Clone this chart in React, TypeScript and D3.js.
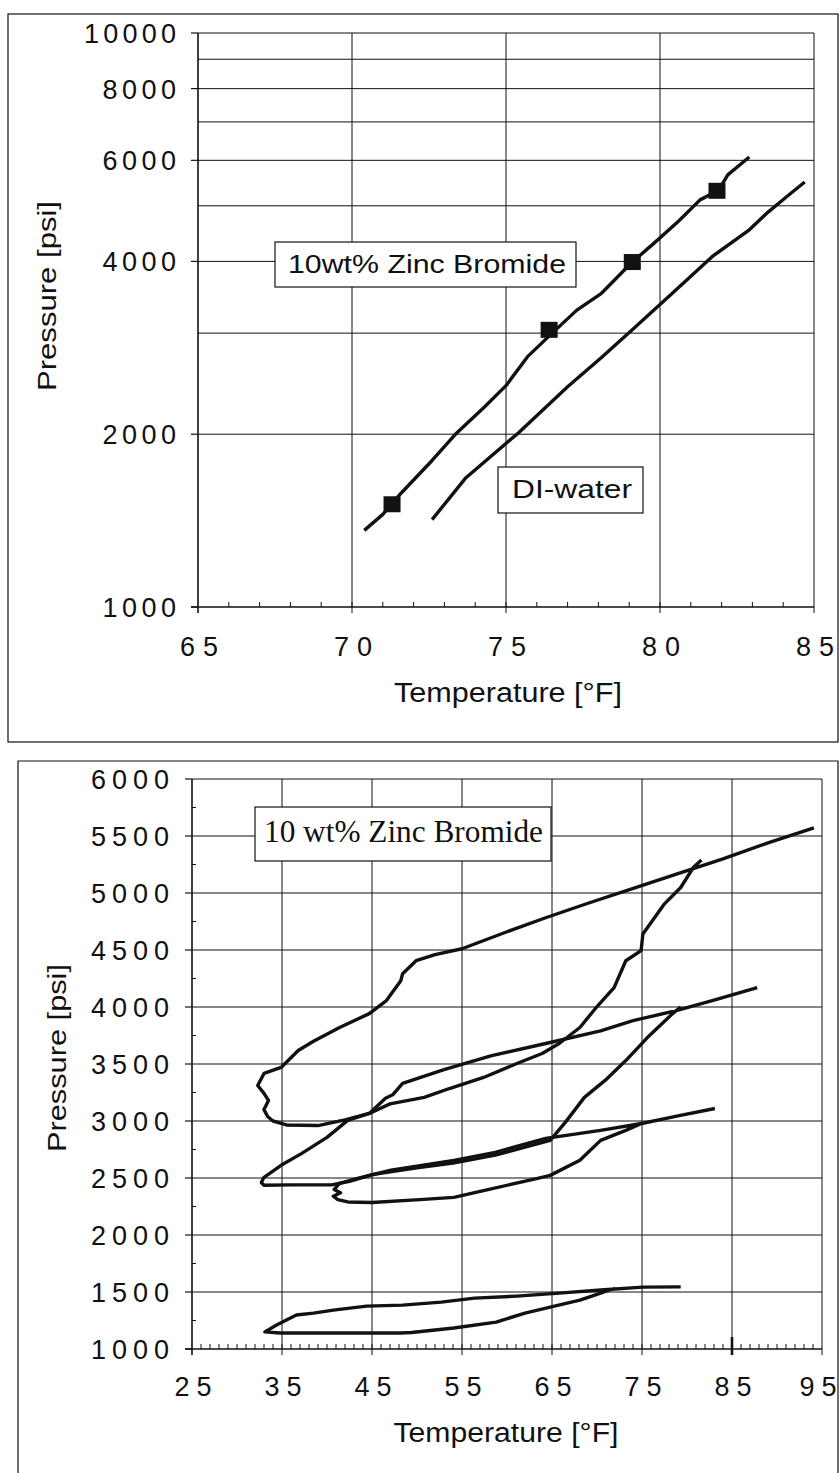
import React, { useEffect, useRef } from 'react';
import * as d3 from 'd3';

// ---- top chart: equilibrium curves (log pressure) ----
const topTempTicks = [65, 70, 75, 80, 85];
const topPressureLabels = [1000, 2000, 4000, 6000, 8000, 10000];
const topPressureGrid = [2000, 3000, 4000, 5000, 6000, 7000, 8000, 9000, 10000];

const znbrTemp = [70.4, 71.0, 71.6, 72.6, 73.4, 74.3, 75.0, 75.7, 76.5, 77.3, 78.1, 79.1, 79.8, 80.6, 81.3, 81.9, 82.2, 82.9];
const znbrPressure = [1360, 1450, 1580, 1800, 2010, 2230, 2430, 2730, 3000, 3290, 3520, 3990, 4300, 4700, 5120, 5320, 5660, 6080];

const waterTemp = [72.6, 73.7, 75.4, 77.0, 78.1, 79.1, 80.4, 81.7, 82.9, 83.5, 84.1, 84.7];
const waterPressure = [1420, 1680, 2010, 2420, 2720, 3040, 3520, 4080, 4540, 4870, 5180, 5500];

const markerTemp = [71.3, 76.4, 79.1, 81.85];
const markerPressure = [1510, 3040, 3990, 5310];

// ---- bottom chart: cooling / heating loops ----
const bottomTempTicks = [25, 35, 45, 55, 65, 75, 85, 95];
const bottomPressureTicks = [1000, 1500, 2000, 2500, 3000, 3500, 4000, 4500, 5000, 5500, 6000];

const loop1Temp = [94.1, 89, 84, 79, 74.2, 69, 64.3, 60, 55, 52, 49.9, 48.4, 48.2, 46.6, 44.7, 41.4, 38.5, 36.8, 34.9, 33, 32.3, 33, 33.5, 33, 33.4, 34, 35.5, 39, 42, 44.7, 47, 50.8, 53.6, 57.4, 61.1, 63.9, 65.8, 68.1, 69.8, 71.9, 73.2, 74.9, 75.1, 77.5, 79.3, 80.7, 81.6];
const loop1Pressure = [5571, 5440, 5300, 5170, 5045, 4910, 4783, 4660, 4511, 4460, 4406, 4292, 4231, 4056, 3942, 3820, 3700, 3618, 3470, 3417, 3312, 3242, 3180, 3100, 3040, 3000, 2965, 2960, 3010, 3066, 3150, 3207, 3285, 3382, 3504, 3592, 3680, 3820, 3985, 4170, 4406, 4494, 4641, 4905, 5048, 5223, 5290];

const loop2Temp = [87.8, 83, 78.9, 74, 70.4, 64.3, 58.3, 53, 48.4, 47.3, 46.5, 44.7, 42.3, 40, 37.2, 34.9, 33, 32.7, 33, 36, 40.5, 42.5, 45, 50, 54, 58.7, 62, 64.8, 66.5, 68.6, 70.9, 73.2, 75.6, 78.4, 79.3];
const loop2Pressure = [4170, 4060, 3970, 3880, 3790, 3680, 3574, 3450, 3330, 3230, 3200, 3066, 3005, 2856, 2716, 2611, 2506, 2460, 2436, 2440, 2440, 2470, 2530, 2590, 2630, 2700, 2770, 2830, 2990, 3207, 3356, 3530, 3732, 3942, 4000];

const loop3Temp = [83.1, 79, 75.1, 70.4, 64.3, 58.7, 54.1, 47.1, 43.4, 41.4, 40.8, 41.5, 40.7, 41.2, 42.3, 45, 50.3, 54.1, 58, 63.4, 64.8, 68.1, 70.4, 73.2, 75];
const loop3Pressure = [3110, 3045, 2980, 2918, 2848, 2725, 2655, 2568, 2497, 2453, 2400, 2370, 2340, 2310, 2290, 2285, 2310, 2330, 2400, 2497, 2523, 2655, 2830, 2918, 2980];

const loop4Temp = [79.3, 75.1, 70.4, 65.8, 61.1, 56.4, 52.7, 48.4, 44.4, 40.7, 38.5, 36.6, 35.5, 34.4, 33.1, 34.8, 48.1, 49.4, 54.1, 58.8, 62, 64.8, 68.1, 70.4, 71.3, 72];
const loop4Pressure = [1545, 1543, 1517, 1490, 1464, 1446, 1411, 1385, 1376, 1341, 1315, 1298, 1254, 1210, 1150, 1140, 1140, 1145, 1184, 1236, 1315, 1368, 1429, 1490, 1517, 1530];

const SANS = '"Liberation Sans", Arial, Helvetica, sans-serif';
const SERIF = '"Liberation Serif", "Times New Roman", serif';

const zip = (t: number[], p: number[]) => t.map((v, i) => [v, p[i]] as [number, number]);

const App = () => {
  const svgRef = useRef<SVGSVGElement>(null);

  useEffect(() => {
    const svg = d3.select(svgRef.current);
    svg.selectAll('*').remove();
    svg.append('rect').attr('width', 840).attr('height', 1473).attr('fill', '#fff');

    const ink = '#111';

    // spaced-out digits, like the scanned Helvetica labels
    const label = (g: any, x: number, y: number, txt: string, anchor: string, size: number, pitch: number) => {
      g.append('text')
        .attr('x', x)
        .attr('y', y)
        .attr('text-anchor', anchor)
        .attr('font-family', SANS)
        .attr('font-size', size)
        .attr('textLength', txt.length * pitch)
        .attr('lengthAdjust', 'spacing')
        .attr('fill', ink)
        .text(txt);
    };

    const boxText = (g: any, x0: number, y0: number, x1: number, y1: number, tx: number, ty: number, txt: string, font: string, size: number, len: number) => {
      g.append('rect')
        .attr('x', x0).attr('y', y0)
        .attr('width', x1 - x0).attr('height', y1 - y0)
        .attr('fill', '#fff').attr('stroke', ink).attr('stroke-width', 1.2);
      g.append('text')
        .attr('x', tx).attr('y', ty)
        .attr('font-family', font).attr('font-size', size)
        .attr('textLength', len).attr('lengthAdjust', 'spacingAndGlyphs')
        .attr('fill', ink)
        .text(txt);
    };

    // ================= TOP CHART =================
    const top = svg.append('g');
    top.append('rect').attr('x', 8).attr('y', 14).attr('width', 830).attr('height', 728)
      .attr('fill', 'none').attr('stroke', ink).attr('stroke-width', 1.2);

    const x1 = d3.scaleLinear().domain([65, 85]).range([198, 814]);
    const y1 = d3.scaleLog().domain([1000, 10000]).range([607, 33]);

    // grid
    topPressureGrid.forEach(p => {
      top.append('line').attr('x1', x1(65)).attr('x2', x1(85)).attr('y1', y1(p)).attr('y2', y1(p))
        .attr('stroke', ink).attr('stroke-width', 1);
    });
    topTempTicks.slice(1).forEach(t => {
      top.append('line').attr('x1', x1(t)).attr('x2', x1(t)).attr('y1', y1(10000)).attr('y2', y1(1000) + 6)
        .attr('stroke', ink).attr('stroke-width', 1);
    });
    // minor ticks
    d3.range(66, 85).forEach(t => {
      top.append('line').attr('x1', x1(t)).attr('x2', x1(t)).attr('y1', y1(1000)).attr('y2', y1(1000) - 5)
        .attr('stroke', ink).attr('stroke-width', 1);
    });
    // axes
    top.append('line').attr('x1', x1(65)).attr('x2', x1(65)).attr('y1', y1(10000)).attr('y2', y1(1000) + 6)
      .attr('stroke', ink).attr('stroke-width', 1.6);
    top.append('line').attr('x1', x1(65) - 7).attr('x2', x1(85)).attr('y1', y1(1000)).attr('y2', y1(1000))
      .attr('stroke', ink).attr('stroke-width', 1.6);
    topPressureLabels.forEach(p => {
      top.append('line').attr('x1', x1(65) - 7).attr('x2', x1(65)).attr('y1', y1(p)).attr('y2', y1(p))
        .attr('stroke', ink).attr('stroke-width', 1.2);
      label(top, 176, y1(p) + 10, String(p), 'end', 27, 18.4);
    });
    topTempTicks.forEach(t => label(top, x1(t) + 1, 656, String(t), 'middle', 27, 19));

    top.append('text').attr('x', 508).attr('y', 702).attr('text-anchor', 'middle')
      .attr('font-family', SANS).attr('font-size', 27).attr('textLength', 228)
      .attr('lengthAdjust', 'spacingAndGlyphs').attr('fill', ink).text('Temperature [°F]');
    top.append('text').attr('transform', 'translate(56,296) rotate(-90)').attr('text-anchor', 'middle')
      .attr('font-family', SANS).attr('font-size', 26).attr('textLength', 190)
      .attr('lengthAdjust', 'spacingAndGlyphs').attr('fill', ink).text('Pressure  [psi]');

    const lineTop = d3.line<[number, number]>().x(d => x1(d[0])).y(d => y1(d[1]));
    top.append('path').datum(zip(znbrTemp, znbrPressure)).attr('d', lineTop)
      .attr('fill', 'none').attr('stroke', ink).attr('stroke-width', 3.4).attr('stroke-linejoin', 'round');
    top.append('path').datum(zip(waterTemp, waterPressure)).attr('d', lineTop)
      .attr('fill', 'none').attr('stroke', ink).attr('stroke-width', 3.4).attr('stroke-linejoin', 'round');
    zip(markerTemp, markerPressure).forEach(d => {
      top.append('rect').attr('x', x1(d[0]) - 8.5).attr('y', y1(d[1]) - 8).attr('width', 17).attr('height', 16)
        .attr('fill', ink);
    });

    boxText(top, 275, 242, 576, 287, 288, 273, '10wt%  Zinc  Bromide', SANS, 25, 278);
    boxText(top, 498, 467, 643, 513, 512, 498, 'DI-water', SANS, 25, 120);

    // ================= BOTTOM CHART =================
    const bot = svg.append('g');
    bot.append('path').attr('d', 'M18,1480 L18,761 L838,761 L838,1480')
      .attr('fill', 'none').attr('stroke', ink).attr('stroke-width', 1.2);

    const x2 = d3.scaleLinear().domain([25, 95]).range([192, 822]);
    const y2 = d3.scaleLinear().domain([1000, 6000]).range([1349, 779]);

    bottomPressureTicks.slice(1).forEach(p => {
      bot.append('line').attr('x1', x2(25)).attr('x2', x2(95)).attr('y1', y2(p)).attr('y2', y2(p))
        .attr('stroke', ink).attr('stroke-width', 1);
    });
    bottomTempTicks.slice(1).forEach(t => {
      bot.append('line').attr('x1', x2(t)).attr('x2', x2(t)).attr('y1', y2(6000)).attr('y2', y2(1000) + 6)
        .attr('stroke', ink).attr('stroke-width', 1);
    });
    // the heavier tick mark at 85
    bot.append('line').attr('x1', x2(85)).attr('x2', x2(85)).attr('y1', y2(1000) - 12).attr('y2', y2(1000) + 6)
      .attr('stroke', ink).attr('stroke-width', 2.6);
    d3.range(26, 95).forEach(t => {
      bot.append('line').attr('x1', x2(t)).attr('x2', x2(t)).attr('y1', y2(1000)).attr('y2', y2(1000) - 5)
        .attr('stroke', ink).attr('stroke-width', 1);
    });
    d3.range(1250, 6000, 500).forEach(p => {
      bot.append('line').attr('x1', x2(25)).attr('x2', x2(25) + 4).attr('y1', y2(p)).attr('y2', y2(p))
        .attr('stroke', ink).attr('stroke-width', 1);
    });
    bot.append('line').attr('x1', x2(25)).attr('x2', x2(25)).attr('y1', y2(6000)).attr('y2', y2(1000) + 6)
      .attr('stroke', ink).attr('stroke-width', 1.6);
    bot.append('line').attr('x1', x2(25) - 7).attr('x2', x2(95)).attr('y1', y2(1000)).attr('y2', y2(1000))
      .attr('stroke', ink).attr('stroke-width', 1.6);
    bottomPressureTicks.forEach(p => {
      bot.append('line').attr('x1', x2(25) - 7).attr('x2', x2(25)).attr('y1', y2(p)).attr('y2', y2(p))
        .attr('stroke', ink).attr('stroke-width', 1.2);
      label(bot, 169, y2(p) + 10, String(p), 'end', 27, 19.5);
    });
    bottomTempTicks.forEach(t => label(bot, t === 95 ? x2(t) - 4 : x2(t) + 1, 1396, String(t), 'middle', 27, 18.5));

    bot.append('text').attr('x', 506).attr('y', 1442).attr('text-anchor', 'middle')
      .attr('font-family', SANS).attr('font-size', 27).attr('textLength', 225)
      .attr('lengthAdjust', 'spacingAndGlyphs').attr('fill', ink).text('Temperature [°F]');
    bot.append('text').attr('transform', 'translate(66,1058) rotate(-90)').attr('text-anchor', 'middle')
      .attr('font-family', SANS).attr('font-size', 26).attr('textLength', 188)
      .attr('lengthAdjust', 'spacingAndGlyphs').attr('fill', ink).text('Pressure  [psi]');

    const lineBot = d3.line<[number, number]>().x(d => x2(d[0])).y(d => y2(d[1]));
    [
      zip(loop1Temp, loop1Pressure),
      zip(loop2Temp, loop2Pressure),
      zip(loop3Temp, loop3Pressure),
      zip(loop4Temp, loop4Pressure),
    ].forEach(pts => {
      bot.append('path').datum(pts).attr('d', lineBot)
        .attr('fill', 'none').attr('stroke', ink).attr('stroke-width', 3.4).attr('stroke-linejoin', 'round');
    });

    boxText(bot, 255, 807, 551, 861, 264, 842, '10 wt% Zinc Bromide', SERIF, 31, 279);
  }, []);

  return (
    <svg ref={svgRef} width={840} height={1473} viewBox="0 0 840 1473"
      style={{ position: 'absolute', left: 0, top: 0 }} />
  );
};

export default App;
